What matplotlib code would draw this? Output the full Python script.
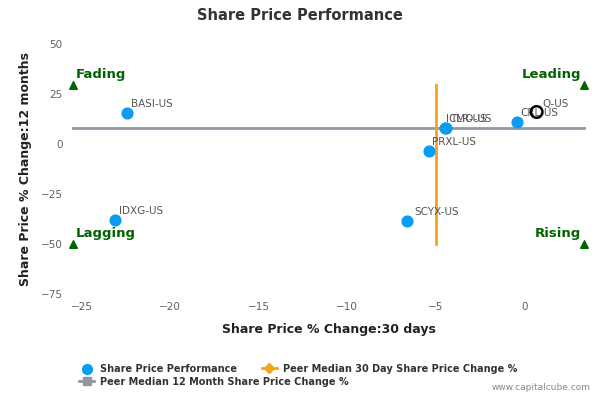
import matplotlib.pyplot as plt
import numpy as np

# data
tickers = ['BASI-US', 'IDXG-US', 'SCYX-US', 'PRXL-US', 'TMO-US', 'ICLR-US', 'CRL-US']
chg_30d = [-22.4, -23.1, -6.6, -5.4, -4.4, -4.5, -0.4]
chg_12m = [15.5, -38.0, -38.5, -3.5, 8.2, 7.8, 11.0]
label_dx = [0.2, 0.2, 0.4, 0.2, 0.2, 0.1, 0.2]

focus_ticker = 'Q-US'
focus_30d = 0.7
focus_12m = 16.0

median_30d = -5.0
median_12m = 8.0
median_30d_span = [-50, 29.5]
median_12m_span = [-25.5, 3.4]

quad_x = [-25.5, 3.4]
quad_y = [-50, 29.5]

green = '#006400'
grey_txt = '#555555'

fig = plt.figure(figsize=(6, 4), dpi=100)
ax = fig.add_axes([0.118, 0.265, 0.862, 0.625])

ax.plot(median_12m_span, [median_12m, median_12m], color='#9198a3', lw=2, zorder=2)
ax.plot([median_30d, median_30d], median_30d_span, color='#f7a21c', lw=2, zorder=2)

ax.scatter(chg_30d, chg_12m, s=60, color='#0a9cf0', zorder=3)
for t, x, y, dx in zip(tickers, chg_30d, chg_12m, label_dx):
    ax.text(x + dx, y + 2, t, fontsize=7.5, color=grey_txt, ha='left', va='bottom', zorder=4)

ax.scatter([focus_30d], [focus_12m], s=70, facecolor='none', edgecolor='black', lw=1.8, zorder=5)
ax.text(focus_30d + 0.3, focus_12m + 1.5, focus_ticker, fontsize=7.5, color=grey_txt,
        ha='left', va='bottom', zorder=4)

# quadrant markers
for qx in quad_x:
    for qy in quad_y:
        ax.scatter([qx], [qy], marker='^', s=30, color=green, zorder=4, clip_on=False)
ax.text(quad_x[0] + 0.2, quad_y[1] + 2, 'Fading', color=green, fontsize=9.5, fontweight='bold',
        ha='left', va='bottom')
ax.text(quad_x[1] - 0.2, quad_y[1] + 2, 'Leading', color=green, fontsize=9.5, fontweight='bold',
        ha='right', va='bottom')
ax.text(quad_x[0] + 0.2, quad_y[0] + 2, 'Lagging', color=green, fontsize=9.5, fontweight='bold',
        ha='left', va='bottom')
ax.text(quad_x[1] - 0.2, quad_y[0] + 2, 'Rising', color=green, fontsize=9.5, fontweight='bold',
        ha='right', va='bottom')

ax.set_xlim(-25.6, 3.6)
ax.set_ylim(-75, 50)
ax.set_xticks([-25, -20, -15, -10, -5, 0])
ax.set_yticks([-75, -50, -25, 0, 25, 50])
for s in ax.spines.values():
    s.set_visible(False)
ax.tick_params(length=0, labelsize=7.5, labelcolor='#606060', pad=6)

ax.set_xlabel('Share Price % Change:30 days', fontsize=9, fontweight='bold', color='#222222', labelpad=8)
ax.set_ylabel('Share Price % Change:12 months', fontsize=9, fontweight='bold', color='#222222', labelpad=6)
fig.text(0.5, 0.96, 'Share Price Performance', ha='center', va='center', fontsize=10.5,
         fontweight='bold', color='#333333')

# legend: two rows drawn as two legends so the columns don't stretch
h1 = ax.scatter([], [], s=50, color='#0a9cf0')
h2, = ax.plot([], [], color='#f7a21c', lw=2, marker='D', ms=5)
h3, = ax.plot([], [], color='#9198a3', lw=2, marker='s', ms=6)
leg_kw = dict(loc='upper left', frameon=False, prop={'size': 7, 'weight': 'bold'},
              handlelength=1.6, columnspacing=2.5, handletextpad=0.6, borderaxespad=0)
leg1 = fig.legend([h1, h2], ['Share Price Performance', 'Peer Median 30 Day Share Price Change %'],
                  bbox_to_anchor=(0.125, 0.1), ncol=2, **leg_kw)
leg2 = fig.legend([h3], ['Peer Median 12 Month Share Price Change %'],
                  bbox_to_anchor=(0.125, 0.068), ncol=1, **leg_kw)
for lg in (leg1, leg2):
    for t in lg.get_texts():
        t.set_color('#333333')

fig.text(0.985, 0.02, 'www.capitalcube.com', ha='right', va='bottom', fontsize=6.5, color='#888888')

fig.savefig('out.png', dpi=100)
